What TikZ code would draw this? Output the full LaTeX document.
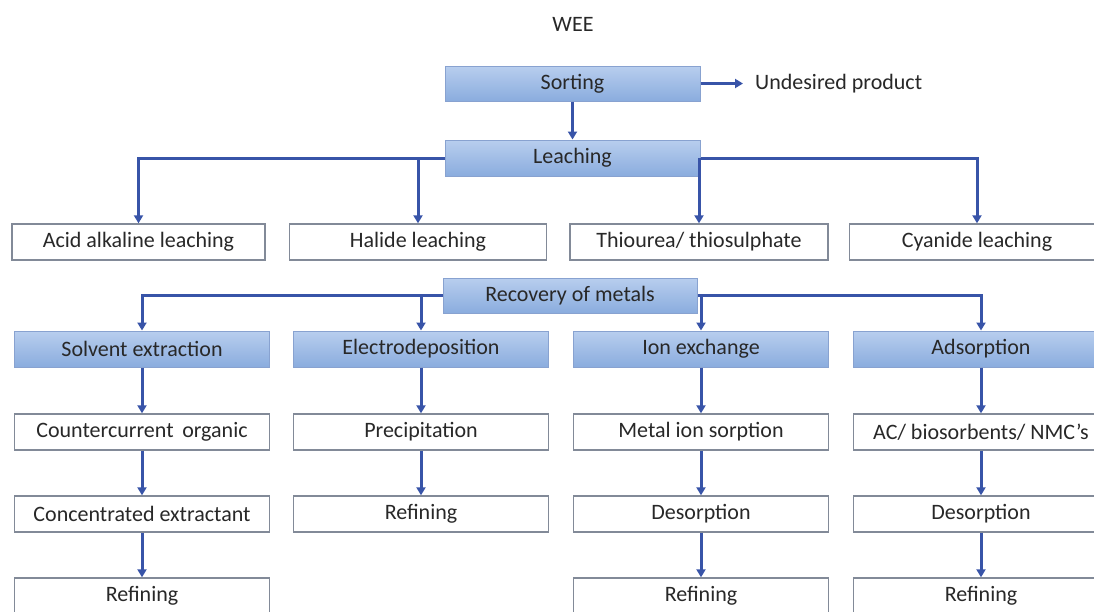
\documentclass[tikz,border=0pt]{standalone}
\usepackage{fontspec}
\setmainfont{Carlito}
\usetikzlibrary{arrows.meta,positioning}
\definecolor{txt}{RGB}{40,40,40}
\definecolor{arrowblue}{RGB}{56,84,168}
\definecolor{bluetop}{RGB}{184,206,238}
\definecolor{bluebot}{RGB}{138,172,222}
\definecolor{blueedge}{RGB}{136,162,208}
\definecolor{greyedge}{RGB}{130,138,152}
\tikzset{
  basebox/.style={minimum height=36pt, inner sep=0pt, text=txt, font=\fontsize{22}{26}\selectfont},
  bluebox/.style={basebox, draw=blueedge, line width=1pt, top color=bluetop, bottom color=bluebot},
  whitebox/.style={basebox, draw=greyedge, line width=1.4pt, fill=white},
  plain/.style={text=txt, font=\fontsize{22}{26}\selectfont, inner sep=0pt},
  arr/.style={draw=arrowblue, line width=3pt, -{Triangle[length=8pt,width=9pt]}}
}
\begin{document}
\begin{tikzpicture}[x=1pt,y=-1pt]
\useasboundingbox (0,0) rectangle (1094,611);
\clip (0,0) rectangle (1094,611);
\fill[white] (0,0) rectangle (1094,611);

\node[plain] (wee) at (573,24) {WEE};
\node[bluebox, minimum width=255pt, minimum height=35pt] (sort) at (572.5,83.5) {Sorting};
\node[plain, anchor=west] (und) at (755,83.5) {Undesired product};
\node[bluebox, minimum width=255pt] (leach) at (572.5,158) {Leaching};

\node[whitebox, minimum width=253pt] (acid) at (138.5,242) {Acid alkaline leaching};
\node[whitebox, minimum width=257pt] (hal) at (418,242) {Halide leaching};
\node[whitebox, minimum width=258pt] (thio) at (699,242) {Thiourea/ thiosulphate};
\node[whitebox, minimum width=255pt] (cyan) at (977,242) {Cyanide leaching};

\node[bluebox, minimum width=254pt, minimum height=35pt] (rec) at (570,295.5) {Recovery of metals};

\node[bluebox, minimum width=255pt] (solv) at (142,349) {Solvent extraction};
\node[bluebox, minimum width=255pt] (elec) at (421,349) {Electrodeposition};
\node[bluebox, minimum width=255pt] (ion) at (701,349) {Ion exchange};
\node[bluebox, minimum width=255pt] (ads) at (981,349) {Adsorption};

\node[whitebox, minimum width=255pt] (coun) at (142,432) {Countercurrent\, organic};
\node[whitebox, minimum width=255pt] (prec) at (421,432) {Precipitation};
\node[whitebox, minimum width=255pt] (msorp) at (701,432) {Metal ion sorption};
\node[whitebox, minimum width=255pt] (acb) at (981,432) {AC/ biosorbents/ NMC’s};

\node[whitebox, minimum width=255pt] (conc) at (142,514) {Concentrated extractant};
\node[whitebox, minimum width=255pt] (ref2) at (421,514) {Refining};
\node[whitebox, minimum width=255pt] (des3) at (701,514) {Desorption};
\node[whitebox, minimum width=255pt] (des4) at (981,514) {Desorption};

\node[whitebox, minimum width=255pt] (ref1) at (142,596) {Refining};
\node[whitebox, minimum width=255pt] (ref3) at (701,596) {Refining};
\node[whitebox, minimum width=255pt] (ref4) at (981,596) {Refining};

% connectors
\draw[arr] (sort.east) -- ([xshift=-12pt]und.west);
\draw[arr] (sort.south) -- (leach.north);

\draw[arr] (leach.west) -| (acid.north);
\draw[arr] (hal.north |- leach.west) -- (hal.north);
\draw[arr] (leach.east) -| (cyan.north);
\draw[arr] (thio.north |- leach.east) -- (thio.north);

\draw[arr] (rec.west) -| (solv.north);
\draw[arr] (elec.north |- rec.west) -- (elec.north);
\draw[arr] (rec.east) -| (ads.north);
\draw[arr] (ion.north |- rec.east) -- (ion.north);

\draw[arr] (solv.south) -- (coun.north);
\draw[arr] (coun.south) -- (conc.north);
\draw[arr] (conc.south) -- (ref1.north);

\draw[arr] (elec.south) -- (prec.north);
\draw[arr] (prec.south) -- (ref2.north);

\draw[arr] (ion.south) -- (msorp.north);
\draw[arr] (msorp.south) -- (des3.north);
\draw[arr] (des3.south) -- (ref3.north);

\draw[arr] (ads.south) -- (acb.north);
\draw[arr] (acb.south) -- (des4.north);
\draw[arr] (des4.south) -- (ref4.north);
\end{tikzpicture}
\end{document}
